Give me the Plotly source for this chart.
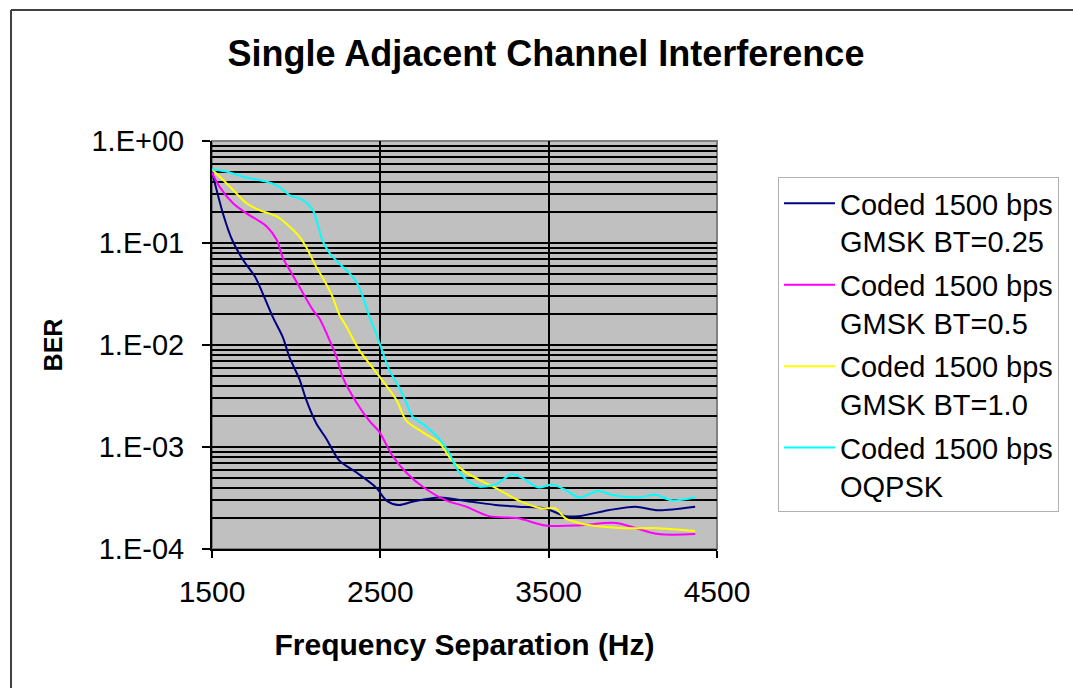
import plotly.graph_objects as go

title_text = "Single Adjacent Channel Interference"
x_title = "Frequency Separation (Hz)"
y_title = "BER"

names = [
    "Coded 1500 bps<br>GMSK BT=0.25",
    "Coded 1500 bps<br>GMSK BT=0.5",
    "Coded 1500 bps<br>GMSK BT=1.0",
    "Coded 1500 bps<br>OQPSK",
]
colors = ["#000080", "#FF00FF", "#FFFF00", "#00FFFF"]

x_bt025 = [1500, 1565, 1620, 1685, 1755, 1785, 1860, 1920, 1960, 2020, 2060, 2120, 2180, 2255,
           2360, 2475, 2535, 2610, 2690, 2850, 3045, 3185, 3320, 3480, 3600, 3680, 3855, 4015,
           4150, 4370]
y_bt025 = [0.50, 0.195, 0.107, 0.068, 0.047, 0.037, 0.019, 0.012, 0.0076, 0.0046, 0.0029, 0.0017,
           0.0012, 0.00074, 0.00056, 0.00040, 0.00030, 0.00027, 0.00029, 0.00032, 0.00029,
           0.00027, 0.00026, 0.00025, 0.00021, 0.00021, 0.00024, 0.00026, 0.00024, 0.00026]

x_bt05 = [1500, 1545, 1625, 1705, 1765, 1825, 1885, 1920, 1960, 2020, 2100, 2140, 2200, 2240,
          2275, 2360, 2435, 2495, 2570, 2655, 2750, 2890, 3010, 3145, 3320, 3480, 3680, 3900,
          4150, 4370]
y_bt05 = [0.49, 0.355, 0.245, 0.195, 0.170, 0.145, 0.107, 0.072, 0.055, 0.037, 0.022, 0.018,
          0.011, 0.0076, 0.0049, 0.0027, 0.0018, 0.0014, 0.00083, 0.00056, 0.00041, 0.00030,
          0.00026, 0.00021, 0.00020, 0.00017, 0.00017, 0.00018, 0.00014, 0.00014]

x_bt10 = [1500, 1565, 1625, 1705, 1785, 1885, 1960, 2020, 2060, 2120, 2170, 2215, 2255, 2300,
          2375, 2495, 2595, 2655, 2750, 2850, 2925, 3010, 3085, 3205, 3320, 3460, 3540, 3600,
          3680, 3755, 3955, 4150, 4370]
y_bt10 = [0.525, 0.417, 0.331, 0.245, 0.209, 0.182, 0.145, 0.115, 0.091, 0.058, 0.042, 0.030,
          0.020, 0.015, 0.0089, 0.0049, 0.0029, 0.0018, 0.0014, 0.0011, 0.00074, 0.00056,
          0.00048, 0.00038, 0.00030, 0.00025, 0.00025, 0.00020, 0.00018, 0.00017, 0.00016,
          0.00016, 0.00015]

x_oqpsk = [1500, 1590, 1685, 1825, 1900, 1960, 2040, 2100, 2125, 2155, 2200, 2255, 2315, 2360,
           2395, 2435, 2475, 2510, 2555, 2610, 2655, 2690, 2770, 2850, 2910, 2950, 3010, 3085,
           3185, 3280, 3340, 3440, 3520, 3600, 3680, 3795, 3875, 4035, 4135, 4230, 4370]
y_oqpsk = [0.525, 0.50, 0.447, 0.398, 0.355, 0.295, 0.263, 0.209, 0.158, 0.107, 0.079, 0.063,
           0.051, 0.041, 0.030, 0.019, 0.013, 0.0089, 0.0056, 0.0039, 0.0027, 0.0020, 0.0016,
           0.0012, 0.00087, 0.00063, 0.00048, 0.00041, 0.00043, 0.00054, 0.00050, 0.00040,
           0.00043, 0.00038, 0.00032, 0.00037, 0.00034, 0.00032, 0.00034, 0.00030, 0.00032]

x_ticks = [1500, 2500, 3500, 4500]
y_ticks = [1e0, 1e-1, 1e-2, 1e-3, 1e-4]
y_tick_labels = ["1.E+00", "1.E-01", "1.E-02", "1.E-03", "1.E-04"]
y_minor = [m * 10.0 ** e for e in (-4, -3, -2, -1) for m in range(2, 10)]

series = [(x_bt025, y_bt025), (x_bt05, y_bt05), (x_bt10, y_bt10), (x_oqpsk, y_oqpsk)]

FONT = "Liberation Sans, Arial, sans-serif"

fig = go.Figure()
for i, ((xs, ys), nm, col) in enumerate(zip(series, names, colors)):
    fig.add_trace(go.Scatter(x=xs, y=ys, name=nm, mode="lines", legendgroup=f"g{i}",
                             line=dict(color=col, width=2, shape="spline", smoothing=0.8)))

W, H = 1073, 688
L, R, T, B = 212, 717, 141, 549
pw, ph = R - L, B - T

fig.update_layout(
    width=W, height=H,
    margin=dict(l=L, r=W - R, t=T, b=H - B, pad=0),
    paper_bgcolor="white", plot_bgcolor="#C0C0C0",
    font=dict(family=FONT, color="black"),
    title=dict(text="<b>" + title_text + "</b>", x=546 / W, y=1 - 53 / H,
               xanchor="center", yanchor="middle", font=dict(size=36, family=FONT)),
    showlegend=True,
    legend=dict(x=(778 - L) / pw, y=1 + (T - 177) / ph, xanchor="left",
                yanchor="top", bgcolor="white", bordercolor="#B0B0B0", borderwidth=1,
                font=dict(size=29, family=FONT), valign="top", tracegroupgap=3,
                itemwidth=51),
    xaxis=dict(range=[1500, 4500], tickvals=x_ticks, ticktext=[str(v) for v in x_ticks],
               showgrid=True, gridcolor="black", gridwidth=2, zeroline=False,
               showline=True, linecolor="black", linewidth=2,
               ticks="outside", ticklen=7, tickcolor="black", tickwidth=2,
               ticklabelstandoff=8,
               tickfont=dict(size=30, family=FONT),
               title=dict(text="<b>" + x_title + "</b>", font=dict(size=30, family=FONT),
                          standoff=27)),
    yaxis=dict(type="log", range=[-4, 0], tickvals=y_ticks, ticktext=y_tick_labels,
               showgrid=True, gridcolor="black", gridwidth=2, zeroline=False,
               showline=True, linecolor="black", linewidth=2,
               ticks="outside", ticklen=8, tickcolor="black", tickwidth=2,
               ticklabelstandoff=12,
               tickfont=dict(size=29, family=FONT),
               minor=dict(tickmode="array", tickvals=y_minor, showgrid=True,
                          gridcolor="black", gridwidth=1.5, ticks=""),
               title=dict(text="<b>" + y_title + "</b>", font=dict(size=25, family=FONT),
                          standoff=22)),
)

# plot-area border (gray) and outer chart border
fig.add_shape(type="rect", xref="paper", yref="paper", x0=0, y0=0, x1=1, y1=1,
              line=dict(color="#808080", width=2), layer="below")
bx = (11 - L) / pw
by = 1 + (T - 10) / ph
fig.add_shape(type="line", xref="paper", yref="paper", x0=bx, x1=bx, y0=-1, y1=by,
              line=dict(color="#404040", width=2))
fig.add_shape(type="line", xref="paper", yref="paper", x0=bx, x1=3, y0=by, y1=by,
              line=dict(color="#404040", width=2))

fig.write_html(
    "out.html",
    config={"displayModeBar": False},
    post_script="document.body.style.margin='0';"
                "document.documentElement.style.overflow='hidden';"
                "document.body.style.overflow='hidden';",
)
